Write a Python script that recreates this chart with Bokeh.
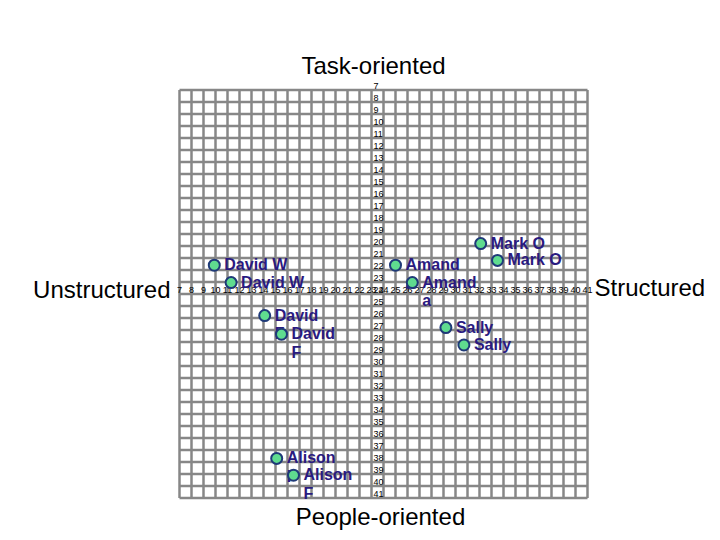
from bokeh.plotting import figure
from bokeh.models import Range1d, ColumnDataSource
from bokeh.core.properties import value
from bokeh.embed import file_html
from bokeh.resources import INLINE

# ---- data ----
ticks = list(range(7, 42))
labels = ["David W", "David W", "David\nF", "David\nF", "Amand\na", "Amand\na",
          "Mark O", "Mark O", "Sally", "Sally", "Alison\nF", "Alison\nF"]
xs = [9.9, 11.3, 14.1, 15.5, 25.0, 26.4, 32.1, 33.5, 29.2, 30.7, 15.1, 16.5]
ys = [21.6, 23.05, 25.8, 27.35, 21.6, 23.05, 19.8, 21.2, 26.8, 28.25, 37.7, 39.1]
axis_titles = ["Task-oriented", "People-oriented", "Unstructured", "Structured"]
center = 24

W, H = 712, 536
px = 12.0
x0 = 7 - 179 / px
y0 = 7 - 89.5 / px

p = figure(width=W, height=H, output_backend="svg", toolbar_location=None,
           x_range=Range1d(x0, x0 + W / px), y_range=Range1d(y0 + H / px, y0),
           x_axis_type=None, y_axis_type=None, min_border=0)
p.outline_line_color = None
p.background_fill_color = "white"

lo, hi = ticks[0], ticks[-1]
grid_col = "#878787"
p.segment(x0=ticks, x1=ticks, y0=[lo] * len(ticks), y1=[hi] * len(ticks),
          line_color=grid_col, line_width=2.5)
p.segment(x0=[lo] * len(ticks), x1=[hi] * len(ticks), y0=ticks, y1=ticks,
          line_color=grid_col, line_width=2.5)

tick_txt = [str(t) for t in ticks]
p.text(x=ticks, y=[center] * len(ticks), text=tick_txt, text_align="center",
       text_baseline="bottom", text_font=value("Liberation Sans"),
       text_font_size="9px", text_color="black", y_offset=-1)
p.text(x=[center] * len(ticks), y=ticks, text=tick_txt, text_align="left",
       text_baseline="bottom", text_font=value("Liberation Sans"),
       text_font_size="9px", text_color="black", x_offset=-10, y_offset=-1)

for i in range(len(xs)):
    s = ColumnDataSource(dict(x=[xs[i]], y=[ys[i]], t=[labels[i]]))
    p.scatter(x="x", y="y", source=s, size=11, fill_color="#5fdc8f",
              line_color="#1f3a78", line_width=2)
    p.text(x="x", y="y", text="t", source=s, text_align="left",
           text_baseline="top", text_font=value("Liberation Sans"),
           text_font_style="bold", text_font_size="16px", text_color="#2a1a80",
           x_offset=10, y_offset=-9, text_line_height=1.1)

# axis titles
tf = value("Liberation Sans")
p.text(x=[23.17], y=[4.96], text=[axis_titles[0]], text_align="center",
       text_baseline="middle", text_font=tf, text_font_size="24px", text_color="black")
p.text(x=[23.75], y=[42.5], text=[axis_titles[1]], text_align="center",
       text_baseline="middle", text_font=tf, text_font_size="24px", text_color="black")
p.text(x=[6.25], y=[23.6], text=[axis_titles[2]], text_align="right",
       text_baseline="middle", text_font=tf, text_font_size="24px", text_color="black")
p.text(x=[41.58], y=[23.46], text=[axis_titles[3]], text_align="left",
       text_baseline="middle", text_font=tf, text_font_size="24px", text_color="black")

open("out.html", "w").write(file_html(p, INLINE))
